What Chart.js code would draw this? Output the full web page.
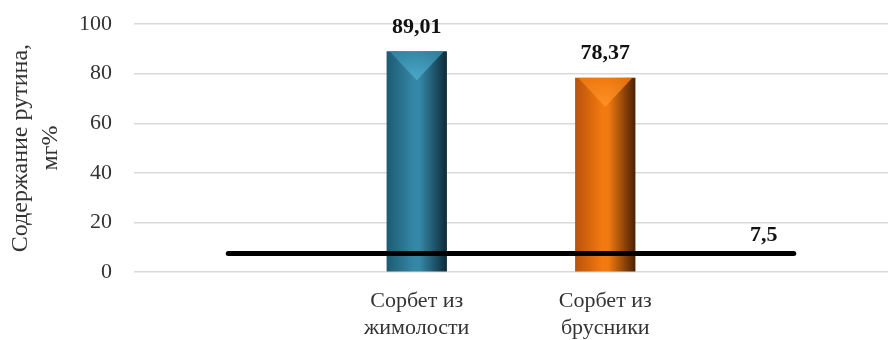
<!DOCTYPE html>
<html>
<head>
<meta charset="utf-8">
<script src="https://cdn.jsdelivr.net/npm/chart.js@4"></script>
<style>
  html, body { margin: 0; padding: 0; background: #fff; }
  #wrap { width: 888px; height: 340px; }
</style>
</head>
<body>
<div id="wrap"><canvas id="grafico"></canvas></div>
<script>
// Данные
const categorias = ['', ['Сорбет из', 'жимолости'], ['Сорбет из', 'брусники'], ''];
const rutina = [null, 89.01, 78.37, null];
const norma = [7.5, 7.5, 7.5, 7.5];
const ticksY = [0, 20, 40, 60, 80, 100];

const FONTE = "'Liberation Serif', 'Times New Roman', serif";

// цвета столбиков: [слева, середина, справа, верх]
const cores = [
  null,
  ['#1d5a72', '#3587a6', '#0c2a38', '#4fb0d0'],
  ['#b9520a', '#f27a10', '#4a2004', '#ff982c']
];

const BAR_PCT = 0.32;

function formatar(v) {
  return String(v).replace('.', ',');
}

function gradienteBarra(ctx) {
  const chart = ctx.chart;
  const i = ctx.dataIndex;
  const c = cores[i];
  if (!c) return '#000';
  const x = chart.scales.x;
  if (!x || !chart.chartArea) return c[1];
  const cx = x.getPixelForValue(i);
  const w = (x.width / categorias.length) * BAR_PCT;
  const g = chart.ctx.createLinearGradient(cx - w / 2, 0, cx + w / 2, 0);
  g.addColorStop(0, c[0]);
  g.addColorStop(0.45, c[1]);
  g.addColorStop(0.55, c[1]);
  g.addColorStop(1, c[2]);
  return g;
}

// верхняя фаска столбика + подписи значений
const pluginBarras = {
  id: 'barras',
  afterDatasetDraw(chart, args) {
    if (args.index !== 1) return;
    const ctx = chart.ctx;
    args.meta.data.forEach((bar, i) => {
      const c = cores[i];
      if (!c || rutina[i] == null) return;
      const left = bar.x - bar.width / 2;
      const right = bar.x + bar.width / 2;
      const g = ctx.createLinearGradient(0, bar.y, 0, bar.y + bar.width * 0.5);
      g.addColorStop(0, c[1]);
      g.addColorStop(1, c[3]);
      ctx.save();
      ctx.globalAlpha = 0.85;
      ctx.beginPath();
      ctx.moveTo(left + 3, bar.y);
      ctx.lineTo(right - 3, bar.y);
      ctx.lineTo(bar.x, bar.y + bar.width * 0.48);
      ctx.closePath();
      ctx.fillStyle = g;
      ctx.fill();
      ctx.restore();
    });
  },
  afterDatasetsDraw(chart) {
    const ctx = chart.ctx;
    ctx.save();
    ctx.font = 'bold 22px ' + FONTE;
    ctx.fillStyle = '#111';
    ctx.textAlign = 'center';
    ctx.textBaseline = 'middle';
    chart.getDatasetMeta(1).data.forEach((bar, i) => {
      if (rutina[i] == null) return;
      ctx.fillText(formatar(rutina[i]), bar.x, bar.y - 24);
    });
    const ultimo = chart.getDatasetMeta(0).data[norma.length - 1];
    ctx.fillText(formatar(norma[norma.length - 1]), ultimo.x - 30, ultimo.y - 18);
    ctx.restore();
  }
};

new Chart(document.getElementById('grafico'), {
  data: {
    labels: categorias,
    datasets: [
      {
        type: 'line',
        label: 'Норма',
        data: norma,
        borderColor: '#000',
        borderWidth: 5,
        borderCapStyle: 'round',
        pointRadius: 0,
        order: 0
      },
      {
        type: 'bar',
        label: 'Рутин',
        data: rutina,
        backgroundColor: gradienteBarra,
        barPercentage: BAR_PCT,
        categoryPercentage: 1,
        order: 1
      }
    ]
  },
  options: {
    responsive: true,
    maintainAspectRatio: false,
    animation: false,
    layout: { padding: { top: 24, right: 0, bottom: -17, left: 6 } },
    plugins: {
      legend: { display: false },
      tooltip: { enabled: false }
    },
    scales: {
      x: {
        grid: { display: false, drawTicks: false },
        border: { display: false },
        ticks: {
          color: '#333',
          font: { family: FONTE, size: 22 },
          padding: 16,
          maxRotation: 0,
          autoSkip: false
        }
      },
      y: {
        min: 0,
        max: 100,
        afterBuildTicks: axis => { axis.ticks = ticksY.map(v => ({ value: v })); },
        afterFit: axis => { axis.paddingTop = 0; },
        grid: { color: '#d9d9d9', lineWidth: 1.5, drawTicks: false },
        border: { display: false },
        ticks: {
          color: '#333',
          font: { family: FONTE, size: 22 },
          padding: 22
        },
        title: {
          display: true,
          text: ['Содержание рутина,', 'мг%'],
          color: '#333',
          font: { family: FONTE, size: 24, lineHeight: 1.25 },
          padding: { top: 0, bottom: -9 }
        }
      }
    }
  },
  plugins: [pluginBarras]
});
</script>
</body>
</html>
